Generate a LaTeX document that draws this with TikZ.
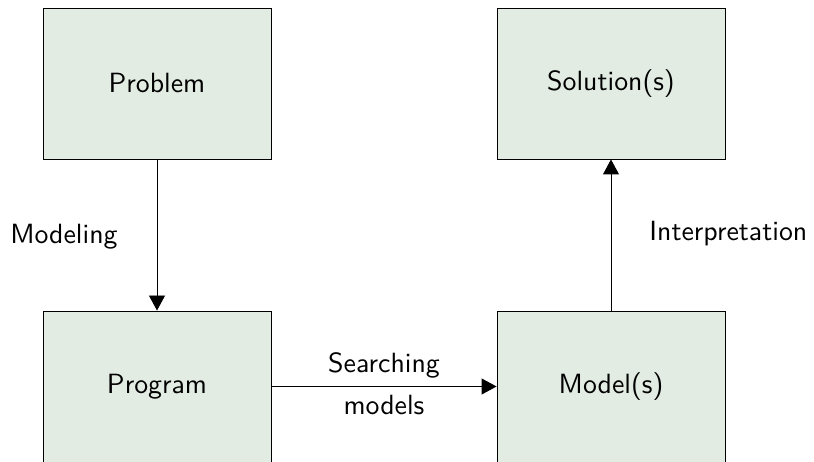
\documentclass[tikz,border=0pt]{standalone}
\usetikzlibrary{arrows.meta}
\definecolor{boxfill}{RGB}{226,236,227}
% sans text at the 10pt design size, enlarged
\newcommand{\bigsans}[1]{\scalebox{2.78}{\fontsize{10}{12}\selectfont\sffamily #1}}
\begin{document}
\begin{tikzpicture}[x=1pt,y=1pt,
  stage/.style={draw=black, line width=0.9pt, fill=boxfill,
    minimum width=228pt, minimum height=151pt, inner sep=0pt},
  flow/.style={draw=black, line width=0.9pt,
    -{Triangle[length=15pt,width=16pt]}},
  lbl/.style={inner sep=0pt}]
  \useasboundingbox (0,0) rectangle (814,461);
  \clip (0,0) rectangle (814,461);

  % the four stages
  \node[stage] (problem)  at (157,377.5) {\bigsans{Problem}};
  \node[stage] (program)  at (157,74.5)  {\bigsans{Program}};
  \node[stage] (solution) at (611,377.5) {\bigsans{Solution(s)}};
  \node[stage] (model)    at (611,74.5)  {\bigsans{Model(s)}};

  % transitions between the stages
  \draw[flow] (problem.south) -- (program.north)
    node[lbl, midway, anchor=base east, xshift=-39pt, yshift=-8pt] {\bigsans{Modeling}};
  \draw[flow] (program.east) -- (model.west)
    node[lbl, midway, anchor=base, yshift=14pt] {\bigsans{Searching}}
    node[lbl, midway, anchor=base, yshift=-28pt] {\bigsans{models}};
  \draw[flow] (model.north) -- (solution.south)
    node[lbl, midway, anchor=base west, xshift=38pt, yshift=-5pt] {\bigsans{Interpretation}};
\end{tikzpicture}
\end{document}
